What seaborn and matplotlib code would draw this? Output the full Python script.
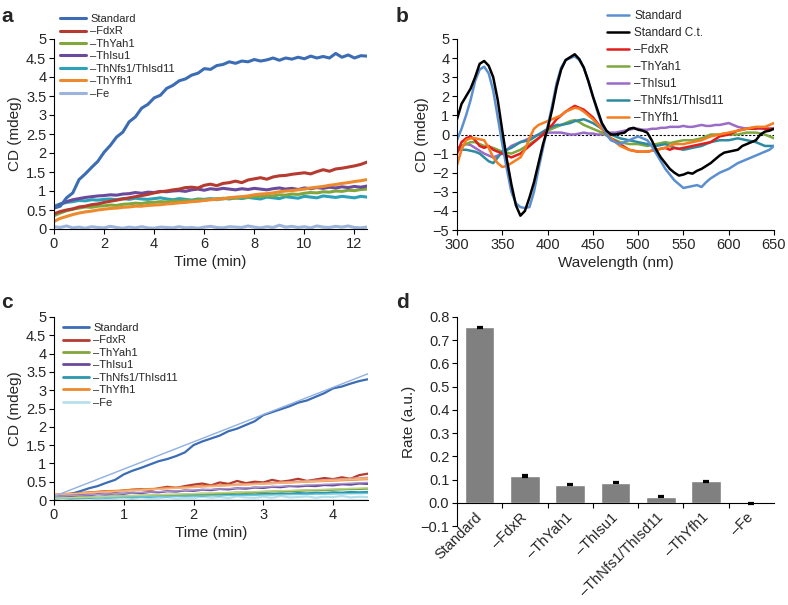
import matplotlib
matplotlib.use("Agg")
import matplotlib.pyplot as plt
import numpy as np
import seaborn as sns
from matplotlib.lines import Line2D
from matplotlib.ticker import FuncFormatter, MultipleLocator

sns.set_style("ticks")
plt.rcParams["font.family"] = ["Liberation Sans", "DejaVu Sans"]
plt.rcParams["axes.linewidth"] = 0.8

DASH = "\u2013"

# ---- panel a: time course, 0-12.5 min every 0.25 min ----
a_time = np.arange(0, 12.51, 0.25)
a_standard = [0.55, 0.60, 0.82, 0.95, 1.30, 1.45, 1.62, 1.78, 2.02, 2.20,
              2.42, 2.55, 2.82, 2.95, 3.18, 3.28, 3.45, 3.52, 3.70, 3.78,
              3.90, 3.95, 4.05, 4.10, 4.22, 4.20, 4.30, 4.33, 4.40, 4.36,
              4.42, 4.40, 4.46, 4.42, 4.45, 4.50, 4.44, 4.50, 4.47, 4.52,
              4.48, 4.55, 4.50, 4.54, 4.50, 4.62, 4.52, 4.58, 4.50, 4.56,
              4.55]
a_fdxr = [0.40, 0.46, 0.50, 0.53, 0.58, 0.60, 0.64, 0.66, 0.70, 0.73,
          0.76, 0.79, 0.82, 0.85, 0.88, 0.91, 0.95, 0.98, 1.00, 1.03,
          1.05, 1.09, 1.10, 1.08, 1.15, 1.18, 1.14, 1.20, 1.22, 1.26,
          1.22, 1.29, 1.32, 1.35, 1.31, 1.37, 1.40, 1.41, 1.44, 1.46,
          1.48, 1.45, 1.51, 1.56, 1.52, 1.58, 1.60, 1.63, 1.66, 1.70,
          1.76]
a_yah1 = [0.35, 0.42, 0.48, 0.52, 0.55, 0.58, 0.57, 0.60, 0.61, 0.63,
          0.62, 0.65, 0.66, 0.68, 0.67, 0.70, 0.70, 0.72, 0.71, 0.74,
          0.73, 0.75, 0.74, 0.77, 0.76, 0.78, 0.80, 0.79, 0.82, 0.81,
          0.84, 0.83, 0.86, 0.85, 0.88, 0.87, 0.90, 0.89, 0.92, 0.91,
          0.94, 0.96, 0.95, 0.98, 0.97, 1.00, 0.99, 1.02, 1.01, 1.04,
          1.05]
a_isu1 = [0.55, 0.65, 0.72, 0.77, 0.80, 0.83, 0.85, 0.87, 0.88, 0.90,
          0.89, 0.92, 0.93, 0.96, 0.94, 0.97, 0.96, 0.99, 0.98, 1.00,
          1.01, 0.99, 1.03, 1.05, 1.02, 1.06, 1.04, 1.07, 1.05, 1.03,
          1.06, 1.04, 1.07, 1.05, 1.03, 1.06, 1.08, 1.05, 1.07, 1.04,
          1.08, 1.06, 1.09, 1.07, 1.10, 1.08, 1.11, 1.09, 1.12, 1.10,
          1.13]
a_nfs1 = [0.60, 0.66, 0.70, 0.72, 0.75, 0.74, 0.77, 0.76, 0.78, 0.79,
          0.77, 0.80, 0.78, 0.81, 0.79, 0.78, 0.80, 0.82, 0.79, 0.77,
          0.80, 0.78, 0.76, 0.79, 0.78, 0.80, 0.77, 0.81, 0.79, 0.82,
          0.80, 0.83, 0.81, 0.79, 0.84, 0.82, 0.80, 0.85, 0.83, 0.81,
          0.86, 0.84, 0.82, 0.87, 0.85, 0.83, 0.86, 0.84, 0.82, 0.86,
          0.84]
a_yfh1 = [0.20, 0.28, 0.33, 0.38, 0.42, 0.45, 0.47, 0.50, 0.52, 0.54,
          0.55, 0.57, 0.58, 0.60, 0.60, 0.62, 0.63, 0.64, 0.66, 0.67,
          0.69, 0.70, 0.72, 0.73, 0.75, 0.77, 0.78, 0.80, 0.82, 0.84,
          0.85, 0.87, 0.90, 0.92, 0.93, 0.95, 0.98, 1.00, 1.01, 1.03,
          1.05, 1.08, 1.10, 1.12, 1.15, 1.17, 1.20, 1.22, 1.25, 1.27,
          1.30]
a_fe = [0.06, 0.04, 0.08, 0.03, 0.05, 0.02, 0.06, 0.04, 0.03, 0.07,
        0.04, 0.02, 0.05, 0.03, 0.06, 0.03, 0.02, 0.05, 0.04, 0.03,
        0.06, 0.03, 0.04, 0.02, 0.05, 0.07, 0.04, 0.03, 0.06, 0.05,
        0.04, 0.08, 0.05, 0.03, 0.06, 0.04, 0.10, 0.05, 0.07, 0.04,
        0.06, 0.03, 0.08, 0.05, 0.04, 0.07, 0.05, 0.08, 0.04, 0.03,
        0.05]

# ---- panel b: CD spectra, 300-650 nm every 5 nm ----
b_wl = np.arange(300, 651, 5)
b_standard = [-0.3, 0.3, 1.0, 1.8, 2.8, 3.4, 3.55, 3.2, 2.3, 0.9,
              -0.5, -1.8, -3.0, -3.6, -3.8, -3.85, -3.8, -3.0, -1.8, -0.7,
              0.4, 1.5, 2.7, 3.5, 3.9, 4.0, 4.1, 3.9, 3.5, 2.8,
              2.0, 1.2, 0.5, 0.0, -0.3, -0.4, -0.5, -0.4, -0.3, -0.2,
              -0.1, -0.2, -0.3, -0.6, -1.0, -1.4, -1.8, -2.1, -2.4, -2.6,
              -2.8, -2.75, -2.7, -2.65, -2.75, -2.5, -2.3, -2.15, -2.0, -1.9,
              -1.8, -1.65, -1.5, -1.4, -1.3, -1.2, -1.1, -1.0, -0.9, -0.8,
              -0.6]
b_ct = [0.8, 1.6, 2.0, 2.4, 3.0, 3.7, 3.85, 3.6, 3.0, 1.8,
        0.2, -1.3, -2.6, -3.7, -4.25, -4.0, -3.3, -2.5, -1.5, -0.5,
        0.3, 1.3, 2.5, 3.4, 3.9, 4.05, 4.2, 3.95, 3.5, 2.8,
        2.0, 1.3, 0.6, 0.2, 0.0, 0.0, 0.05, 0.1, 0.3, 0.35,
        0.25, 0.2, 0.1, -0.3, -0.8, -1.2, -1.5, -1.8, -2.0, -2.15,
        -2.1, -2.0, -2.05, -1.9, -1.8, -1.65, -1.5, -1.3, -1.1, -0.95,
        -0.9, -0.85, -0.8, -0.6, -0.5, -0.4, -0.3, 0.0, 0.15, 0.2,
        0.3]
b_fdxr = [-1.0, -0.4, -0.2, -0.1, -0.3, -0.6, -0.7, -0.6, -0.8, -0.9,
          -1.0, -1.1, -1.2, -1.1, -1.0, -0.8, -0.6, -0.4, -0.2, 0.0,
          0.3, 0.5, 0.8, 1.0, 1.2, 1.35, 1.5, 1.4, 1.3, 1.1,
          0.9, 0.6, 0.3, 0.0, -0.2, -0.35, -0.5, -0.65, -0.8, -0.85,
          -0.9, -0.9, -0.9, -0.85, -0.8, -0.75, -0.7, -0.8, -0.7, -0.75,
          -0.7, -0.65, -0.6, -0.55, -0.5, -0.45, -0.4, -0.25, -0.1, -0.05,
          0.0, 0.1, 0.2, 0.25, 0.3, 0.3, 0.3, 0.35, 0.3, 0.3,
          0.3]
b_yah1 = [-0.8, -0.6, -0.5, -0.4, -0.4, -0.5, -0.6, -0.65, -0.7, -0.8,
          -0.9, -0.95, -1.0, -0.9, -0.8, -0.65, -0.5, -0.35, -0.2, 0.0,
          0.2, 0.3, 0.4, 0.5, 0.6, 0.7, 0.75, 0.65, 0.5, 0.4,
          0.3, 0.2, 0.1, -0.05, -0.2, -0.3, -0.4, -0.45, -0.5, -0.5,
          -0.5, -0.55, -0.6, -0.55, -0.5, -0.45, -0.4, -0.45, -0.4, -0.35,
          -0.3, -0.3, -0.3, -0.25, -0.2, -0.1, 0.0, 0.0, 0.0, 0.05,
          0.0, 0.0, 0.0, 0.05, 0.1, 0.1, 0.1, 0.05, 0.0, -0.1,
          -0.2]
b_isu1 = [-0.7, -0.6, -0.5, -0.55, -0.7, -0.85, -1.0, -1.1, -1.2, -1.1,
          -1.0, -0.8, -0.6, -0.5, -0.4, -0.3, -0.2, -0.1, 0.0, 0.05,
          0.1, 0.1, 0.1, 0.1, 0.05, 0.0, 0.0, 0.05, 0.1, 0.05,
          0.05, 0.0, 0.0, 0.05, 0.1, 0.1, 0.15, 0.2, 0.25, 0.3,
          0.3, 0.25, 0.25, 0.3, 0.3, 0.35, 0.35, 0.4, 0.4, 0.4,
          0.45, 0.4, 0.4, 0.45, 0.5, 0.45, 0.45, 0.5, 0.5, 0.55,
          0.6, 0.5, 0.4, 0.35, 0.3, 0.35, 0.35, 0.3, 0.3, 0.3,
          0.3]
b_nfs1 = [-0.8, -0.8, -0.8, -0.85, -0.9, -1.0, -1.2, -1.4, -1.5, -1.2,
          -0.9, -0.8, -0.7, -0.55, -0.4, -0.35, -0.3, -0.15, 0.0, 0.15,
          0.3, 0.4, 0.5, 0.5, 0.55, 0.6, 0.7, 0.75, 0.8, 0.7,
          0.6, 0.45, 0.3, 0.15, 0.0, -0.1, -0.2, -0.25, -0.3, -0.35,
          -0.4, -0.45, -0.5, -0.55, -0.6, -0.55, -0.5, -0.6, -0.7, -0.75,
          -0.8, -0.75, -0.7, -0.65, -0.6, -0.5, -0.4, -0.35, -0.3, -0.3,
          -0.3, -0.25, -0.2, -0.25, -0.3, -0.35, -0.4, -0.5, -0.6, -0.6,
          -0.6]
b_yfh1 = [-1.6, -0.8, -0.3, -0.2, -0.2, -0.25, -0.3, -0.7, -1.2, -1.5,
          -1.7, -1.65, -1.5, -1.35, -1.2, -0.8, -0.2, 0.3, 0.5, 0.6,
          0.7, 0.8, 0.9, 1.0, 1.2, 1.3, 1.4, 1.35, 1.2, 1.0,
          0.8, 0.55, 0.3, 0.05, -0.2, -0.4, -0.6, -0.7, -0.8, -0.85,
          -0.9, -0.9, -0.9, -0.85, -0.8, -0.75, -0.7, -0.6, -0.5, -0.5,
          -0.5, -0.45, -0.4, -0.35, -0.3, -0.2, -0.1, -0.05, 0.0, 0.05,
          0.1, 0.15, 0.2, 0.25, 0.3, 0.35, 0.4, 0.4, 0.4, 0.5,
          0.6]

# ---- panel c: initial rates, 0-4.5 min every 0.125 min ----
c_time = np.arange(0, 4.51, 0.125)
c_standard = [0.10, 0.13, 0.17, 0.24, 0.32, 0.38, 0.47, 0.55,
              0.70, 0.80, 0.88, 0.97, 1.06, 1.12, 1.20, 1.30,
              1.50, 1.60, 1.68, 1.76, 1.88, 1.95, 2.05, 2.15,
              2.32, 2.40, 2.48, 2.56, 2.66, 2.72, 2.82, 2.92,
              3.05, 3.10, 3.18, 3.25, 3.30]
c_fdxr = [0.12, 0.14, 0.15, 0.18, 0.20, 0.22, 0.24, 0.23,
          0.26, 0.28, 0.30, 0.27, 0.32, 0.36, 0.33, 0.38,
          0.42, 0.45, 0.40, 0.48, 0.44, 0.52, 0.46, 0.50,
          0.48, 0.55, 0.50, 0.53, 0.58, 0.52, 0.56, 0.60,
          0.57, 0.62, 0.58, 0.68, 0.72]
c_yah1 = [0.05, 0.06, 0.06, 0.07, 0.08, 0.08, 0.09, 0.10,
          0.10, 0.11, 0.12, 0.12, 0.13, 0.14, 0.14, 0.15,
          0.16, 0.17, 0.17, 0.18, 0.19, 0.20, 0.20, 0.21,
          0.22, 0.23, 0.24, 0.24, 0.25, 0.26, 0.27, 0.27,
          0.28, 0.29, 0.30, 0.30, 0.31]
c_isu1 = [0.10, 0.12, 0.11, 0.14, 0.13, 0.16, 0.15, 0.18,
          0.17, 0.20, 0.19, 0.22, 0.21, 0.24, 0.23, 0.26,
          0.25, 0.28, 0.27, 0.30, 0.29, 0.32, 0.31, 0.34,
          0.33, 0.36, 0.35, 0.38, 0.37, 0.39, 0.38, 0.41,
          0.40, 0.43, 0.42, 0.45, 0.44]
c_nfs1 = [0.05, 0.06, 0.05, 0.07, 0.06, 0.08, 0.07, 0.08,
          0.09, 0.08, 0.10, 0.09, 0.11, 0.10, 0.12, 0.11,
          0.13, 0.12, 0.14, 0.13, 0.15, 0.14, 0.16, 0.15,
          0.17, 0.16, 0.18, 0.17, 0.19, 0.18, 0.20, 0.19,
          0.21, 0.20, 0.22, 0.21, 0.22]
c_yfh1 = [0.15, 0.16, 0.18, 0.19, 0.21, 0.22, 0.24, 0.25,
          0.26, 0.28, 0.29, 0.30, 0.31, 0.33, 0.34, 0.35,
          0.36, 0.38, 0.39, 0.40, 0.41, 0.42, 0.43, 0.44,
          0.45, 0.46, 0.47, 0.48, 0.49, 0.50, 0.51, 0.52,
          0.53, 0.54, 0.55, 0.56, 0.57]
c_fe = [0.03, 0.05, 0.02, 0.04, 0.06, 0.03, 0.05, 0.04,
        0.06, 0.03, 0.07, 0.04, 0.05, 0.08, 0.04, 0.06,
        0.05, 0.09, 0.06, 0.08, 0.05, 0.10, 0.07, 0.06,
        0.09, 0.06, 0.11, 0.07, 0.08, 0.10, 0.06, 0.09,
        0.08, 0.11, 0.07, 0.09, 0.08]
# linear fits (value at t=0 and t=4.5)
c_fit_start = [0.10, 0.14, 0.05, 0.10, 0.05, 0.15, 0.0]
c_fit_end = [3.45, 0.62, 0.33, 0.48, 0.18, 0.58, 0.0]

# ---- panel d: rates ----
d_labels = ["Standard", DASH + "FdxR", DASH + "ThYah1", DASH + "ThIsu1",
            DASH + "ThNfs1/ThIsd11", DASH + "ThYfh1", DASH + "Fe"]
d_rates = [0.755, 0.115, 0.078, 0.087, 0.027, 0.092, -0.003]
d_errors = [0.004, 0.003, 0.003, 0.003, 0.003, 0.003, 0.003]

names7 = ["Standard", DASH + "FdxR", DASH + "ThYah1", DASH + "ThIsu1",
          DASH + "ThNfs1/ThIsd11", DASH + "ThYfh1", DASH + "Fe"]
colors_a = ["#3c6db4", "#b53a30", "#80a63c", "#6a4a9c", "#2ca2b8", "#ee8a2e", "#9cb3dc"]
colors_c = ["#3c6db4", "#b53a30", "#80a63c", "#6a4a9c", "#2b97ae", "#ee8a2e", "#b8dfec"]
fit_colors = ["#8fb0e0", "#e39a90", "#bcd690", "#ab98cc", "#6cc8d8", "#f6b77a", "#3aa8c0"]
names_b = ["Standard", "Standard C.t.", DASH + "FdxR", DASH + "ThYah1", DASH + "ThIsu1",
           DASH + "ThNfs1/ThIsd11", DASH + "ThYfh1"]
colors_b = ["#5b8fcf", "#000000", "#e31d1d", "#7ea83e", "#9a6cc8", "#2e8b9f", "#f57d1f"]

TICK = 10.5
LABEL = 11


def _num(v, pos):
    return f"{v:g}".replace("-", "\u2212")


def _num1(v, pos):
    if abs(v) < 1e-9:
        v = 0.0
    return f"{v:.1f}".replace("-", "\u2212")


def _style(ax):
    sns.despine(ax=ax)
    ax.tick_params(direction="out", length=3.5, width=0.8, labelsize=TICK, color="black", pad=2)
    for side in ("left", "bottom"):
        ax.spines[side].set_color("black")


def _legend(labels, colors, lw, x, y, size, spacing, hlen):
    handles = [Line2D([], [], color=c, lw=lw) for c in colors]
    fig.legend(handles, labels, loc="upper left", bbox_to_anchor=(x / 788, 1 - y / 605),
               frameon=False, fontsize=size, labelspacing=spacing, handlelength=hlen,
               handletextpad=0.4, borderpad=0, borderaxespad=0)


fig = plt.figure(figsize=(7.88, 6.05), dpi=100)
ax_a = fig.add_axes([54 / 788, 1 - 229 / 605, 313 / 788, 190 / 605])
ax_b = fig.add_axes([457 / 788, 1 - 230 / 605, 317 / 788, 191 / 605])
ax_c = fig.add_axes([54 / 788, 1 - 500 / 605, 314 / 788, 183 / 605])
ax_d = fig.add_axes([457 / 788, 1 - 526 / 605, 317 / 788, 209 / 605])

# panel a
a_series = [a_standard, a_fdxr, a_yah1, a_isu1, a_nfs1, a_yfh1, a_fe]
for i in [6, 4, 2, 3, 5, 1, 0]:
    sns.lineplot(x=a_time, y=a_series[i], color=colors_a[i], lw=2.2, ax=ax_a,
                 estimator=None, sort=False, legend=False)
ax_a.set_xlim(0, 12.5)
ax_a.set_ylim(0, 5)
ax_a.xaxis.set_major_locator(MultipleLocator(2))
ax_a.yaxis.set_major_locator(MultipleLocator(0.5))
ax_a.yaxis.set_major_formatter(FuncFormatter(_num))
ax_a.set_xlabel("Time (min)", fontsize=LABEL, labelpad=3)
ax_a.set_ylabel("CD (mdeg)", fontsize=LABEL, labelpad=3)
_style(ax_a)
_legend(names7, colors_a, 2.2, 60, 14, 8, 0.22, 2.3)

# panel b
b_series = [b_standard, b_ct, b_fdxr, b_yah1, b_isu1, b_nfs1, b_yfh1]
ax_b.axhline(0, color="black", lw=0.8, ls=(0, (2, 1.5)))
for i in [4, 3, 5, 2, 6, 0, 1]:
    sns.lineplot(x=b_wl, y=b_series[i], color=colors_b[i], lw=1.8, ax=ax_b,
                 estimator=None, sort=False, legend=False)
ax_b.set_xlim(300, 650)
ax_b.set_ylim(-5, 5)
ax_b.xaxis.set_major_locator(MultipleLocator(50))
ax_b.yaxis.set_major_locator(MultipleLocator(1))
ax_b.yaxis.set_major_formatter(FuncFormatter(_num))
ax_b.set_xlabel("Wavelength (nm)", fontsize=LABEL, labelpad=3)
ax_b.set_ylabel("CD (mdeg)", fontsize=LABEL, labelpad=3)
_style(ax_b)
_legend(names_b, colors_b, 1.8, 607, 10, 8.5, 0.42, 1.9)

# panel c
c_series = [c_standard, c_fdxr, c_yah1, c_isu1, c_nfs1, c_yfh1, c_fe]
for i in [6, 4, 2, 3, 1, 5, 0]:
    sns.lineplot(x=c_time, y=c_series[i], color=colors_c[i], lw=1.6, ax=ax_c,
                 estimator=None, sort=False, legend=False)
for i in [6, 4, 2, 3, 1, 5, 0]:
    sns.lineplot(x=[c_time[0], c_time[-1]], y=[c_fit_start[i], c_fit_end[i]],
                 color=fit_colors[i], lw=1.0, ax=ax_c, estimator=None, legend=False)
ax_c.set_xlim(0, 4.5)
ax_c.set_ylim(0, 5)
ax_c.xaxis.set_major_locator(MultipleLocator(1))
ax_c.yaxis.set_major_locator(MultipleLocator(0.5))
ax_c.yaxis.set_major_formatter(FuncFormatter(_num))
ax_c.set_xlabel("Time (min)", fontsize=LABEL, labelpad=3)
ax_c.set_ylabel("CD (mdeg)", fontsize=LABEL, labelpad=3)
_style(ax_c)
_legend(names7, colors_c, 2.0, 63, 323, 8, 0.22, 2.3)

# panel d
sns.barplot(x=d_labels, y=d_rates, color="#808080", saturation=1, width=0.65,
            errorbar=None, ax=ax_d)
ax_d.errorbar(range(len(d_rates)), d_rates, yerr=d_errors, fmt="none", ecolor="black",
              elinewidth=1.0, capsize=2.5, capthick=1.6)
ax_d.set_xlim(-0.5, 6.5)
ax_d.set_ylim(-0.1, 0.8)
ax_d.yaxis.set_major_locator(MultipleLocator(0.1))
ax_d.yaxis.set_major_formatter(FuncFormatter(_num1))
_style(ax_d)
ax_d.spines["bottom"].set_position(("data", 0))
ax_d.set_xticks(range(len(d_labels)))
ax_d.set_xticklabels(d_labels, rotation=45, ha="right", va="center", rotation_mode="anchor")
ax_d.set_xticks(np.arange(0.5, 6, 1), minor=True)
ax_d.tick_params(axis="x", which="major", length=0, pad=9, labelsize=TICK)
ax_d.tick_params(axis="x", which="minor", direction="out", length=3.5, width=0.8, color="black")
ax_d.set_xlabel("")
ax_d.set_ylabel("Rate (a.u.)", fontsize=LABEL, labelpad=3)

for letter, x, y in [("a", 1, 22), ("b", 396, 22), ("c", 1, 308), ("d", 396, 308)]:
    fig.text(x / 788, 1 - y / 605, letter, fontsize=15, fontweight="bold", va="baseline")

fig.savefig("out.png", dpi=100)
plt.close(fig)
